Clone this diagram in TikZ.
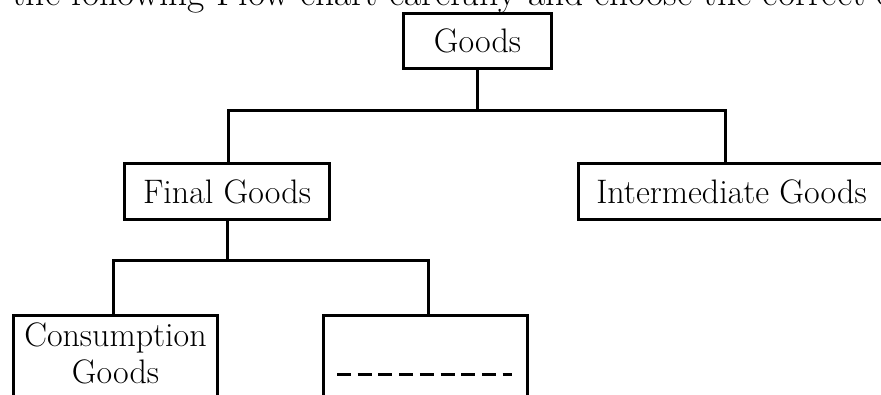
\documentclass[tikz,border=0pt]{standalone}
\usepackage{fontspec}
\usepackage{tikz}
\tikzstyle{box} = [draw, line width=3pt, inner sep=0pt, minimum height=56pt, align=center]
\tikzstyle{link} = [line width=3pt]
\tikzstyle{blankline} = [line width=3pt, dash pattern=on 14pt off 6.7pt]

\begin{document}
\begin{tikzpicture}[x=1pt,y=-1pt,
	every node/.style={font=\fontsize{34}{37}\selectfont}]
	\useasboundingbox (0,0) rectangle (881,394);
	\node[anchor=base west, inner sep=0pt, font=\fontsize{37.5}{44}\selectfont] (title) at (-18,5) {d the following Flow chart carefully and choose the correct o};
	\node[box, minimum width=148pt, minimum height=55pt] (goods) at (477.5,41) {Goods};
	\node[box, minimum width=205pt] (final) at (227,191.5) {Final Goods};
	\node[box, minimum width=306pt] (inter) at (731.5,191.5) {Intermediate Goods};
	\node[box, anchor=north, minimum width=204pt, inner ysep=8pt, text depth=60pt] (cons) at (115.5,313.5) {Consumption\\Goods};
	\node[box, anchor=north, minimum width=204pt, minimum height=100pt] (blank) at (425.5,313.5) {};
	\coordinate (split1) at (477.5,110);
	\coordinate (split2) at (227,260);
	\draw[link] (goods.south) -- (split1) -| ([xshift=1.5pt]final.north);
	\draw[link] (split1) -| ([xshift=-6.5pt]inter.north);
	\draw[link] (final.south) -- (split2) -| ([xshift=-2.5pt]cons.north);
	\draw[link] (split2) -| ([xshift=2.5pt]blank.north);
	\draw[blankline] ([xshift=-88.5pt,yshift=-60.5pt]blank.north) -- ([xshift=86.5pt,yshift=-60.5pt]blank.north);
\end{tikzpicture}
\end{document}
